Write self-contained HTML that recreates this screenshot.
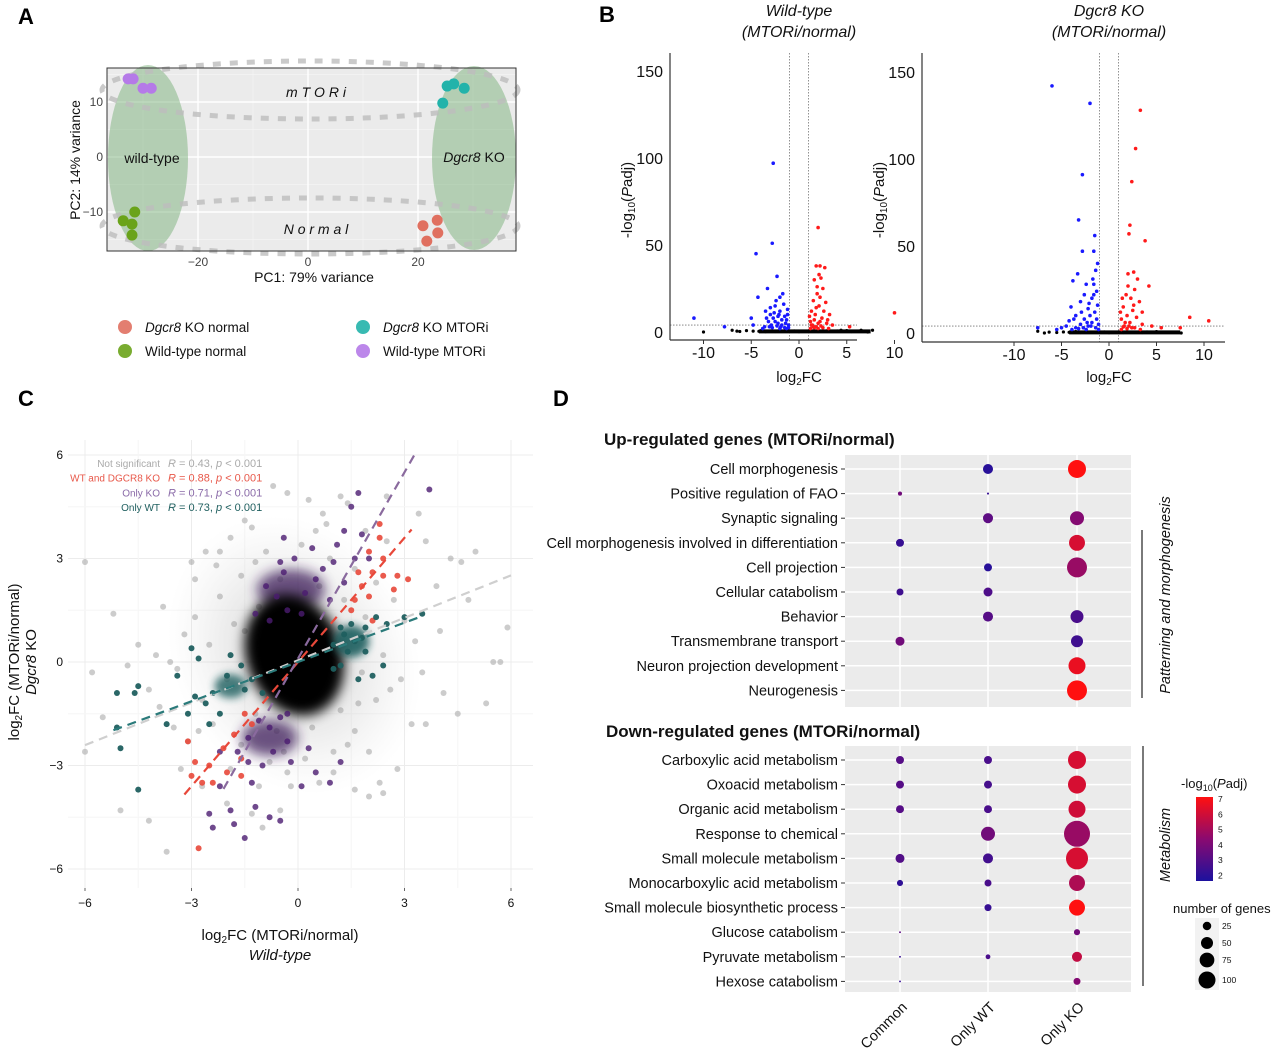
<!DOCTYPE html>
<html><head><meta charset="utf-8"><style>
html,body{margin:0;padding:0;background:#fff;}
svg{display:block;font-family:"Liberation Sans",sans-serif;}
</style></head><body>
<svg id="fig" width="1280" height="1055" viewBox="0 0 1280 1055">
<defs>
<linearGradient id="cbar" x1="0" y1="1" x2="0" y2="0">
<stop offset="0" stop-color="#1c119e"/><stop offset="0.5" stop-color="#8a0a70"/><stop offset="1" stop-color="#ff1010"/>
</linearGradient>
<radialGradient id="halo"><stop offset="0" stop-color="#888" stop-opacity="0.4"/><stop offset="0.55" stop-color="#aaa" stop-opacity="0.22"/><stop offset="1" stop-color="#ccc" stop-opacity="0"/></radialGradient>
<filter id="blur6" x="-50%" y="-50%" width="200%" height="200%"><feGaussianBlur stdDeviation="6"/></filter>
<filter id="blur4" x="-50%" y="-50%" width="200%" height="200%"><feGaussianBlur stdDeviation="4"/></filter>
</defs>
<g font-weight="bold" font-size="22" fill="#000">
<text x="18" y="24">A</text>
<text x="599" y="22">B</text>
<text x="18" y="406">C</text>
<text x="553" y="406">D</text>
</g>
<g id="pA"></g>
<g id="pB"></g>
<g id="pC"></g>
<g id="pD"></g>
</svg>
<script>
const NS="http://www.w3.org/2000/svg";
function mk(tag,attrs,parent,txt){const e=document.createElementNS(NS,tag);for(const k in attrs)e.setAttribute(k,attrs[k]);if(txt!==undefined)e.textContent=txt;parent.appendChild(e);return e;}

/* ---------- Panel A data ---------- */
const pcaGroups=["Dgcr8 KO normal","Wild-type normal","Dgcr8 KO MTORi","Wild-type MTORi"];
const pcaColors=["#e07060","#6aa31a","#22b3aa","#b57ae8"];
const pcaPC1=[[20.9,23.5,23.6,21.6],[-33.6,-31.5,-32,-32],[25.3,26.5,28.4,24.5],[-32.7,-31.8,-30,-28.5]];
const pcaPC2=[[-12.5,-11.5,-13.8,-15.3],[-11.6,-10,-12.2,-14.2],[12.9,13.3,12.5,9.8],[14.2,14.2,12.5,12.5]];
const pcaXTicks=[-20,0,20];
const pcaYTicks=[10,0,-10];

/* ---------- Panel B data ---------- */
const wtBlueX=[-11,-7.8,-4.5,-2.8,-2.7,-2.3,-3.3,-4.3,-5,-4.8,-3.5,-3,-2.5,-2,-1.5,-1.2,-1.8,-2.2,-3.2,-2.7,-1.4,-1.1,-2.0,-2.4,-3.0,-1.6,-1.3,-2.9,-3.6,-1.9,-2.6,-1.7,-2.1,-3.4,-1.2,-2.3,-1.5,-2.0,-2.8,-3.1,-1.8,-2.5,-1.3,-3.8,-1.1,-2.2];
const wtBlueY=[8,3,45,51,97,32,25,20,8,4,12,10,15,12,9,13,7,5,6,8,5,4,20,18,14,16,7,4,3,3,11,22,10,8,10,3.5,2.5,2,2.5,3,4,6,2,2,2.5,9];
const wtRedX=[2,2.7,1.8,2.2,2.3,1.6,2.5,1.9,1.5,2.1,2.6,3.2,1.3,1.7,2.4,1.2,2.9,3.5,1.4,2.0,5.3,10,1.8,2.2,1.6,1.1,2.8,3.0,1.5,2.3,1.9,2.1,1.2,1.6,2.0,2.5,1.3,1.8,2.2,3.1];
const wtRedY=[60,37,38,38,31,30,25,22,18,15,12,10,12,10,8,6,5,4,4,5,3,11,14,20,7,9,17,7,3,3.5,26,33,2,2.5,2,2.5,4,3,6,2];
const wtBlackX=[-10,-7,-6.5,-6.2,-5.5,-4.8,-4.2,-3.9,-3.5,-3,-2.5,-2,-1.5,-1,-0.5,0,0.5,1,1.5,2,2.5,3,3.5,4,4.4,5,5.5,6,6.5,7.2,7.7];
const wtBlackY=[0,1,0.5,0.3,0.8,0.5,0.4,1,0.2,0.6,0.3,0.7,0.5,0.4,0.6,0.2,0.5,0.4,0.6,0.3,0.5,0.8,0.4,0.6,1,0.8,0.3,0.5,1,0,1];
const koBlueX=[-6,-2,-2.8,-3.2,-1.5,-2.8,-1.6,-3.3,-3.8,-1.4,-2.4,-1.6,-2.6,-3.0,-4,-3.5,-2.2,-1.8,-1.3,-1.2,-1.5,-2.0,-2.6,-3.0,-4.5,-5,-5.5,-7.5,-1.8,-1.3,-2.2,-3.5,-1.1,-2.9,-4.2,-1.7,-2.1,-3.7,-1.2,-1.6,-1.4,-2.4,-3.2,-1.9,-2.7,-3.9,-1.1,-2.3];
const koBlueY=[142,132,91,65,56,47,47,34,30,36,28,28,22,18,15,10,14,20,24,16,12,10,8,5,4,3,2,3,6,8,4,3,5,12,7,31,17,8,40,22,3,2,2.5,4,3,2,2,6];
const koRedX=[3.3,2.8,2.4,2.2,2.1,3.8,2.6,2.0,3.0,4.2,2.7,1.8,2.3,3.2,1.5,2.5,1.9,2.9,1.3,2.2,3.5,4.5,1.6,2.4,5.5,7.5,8.5,10.5,1.2,2.0,3.5,1.4,2.6,1.7,1.3,1.9,2.7,3.3,1.5,2.1];
const koRedY=[128,106,87,62,57,53,35,34,31,27,25,22,20,18,15,13,10,9,8,6,5,4,4,3,3,3,9,7,12,27,12,20,16,6,2,2.5,3,2,3.5,4];
const koBlackX=[-7.5,-6.8,-6.3,-5.5,-4.8,-4.2,-3.5,-3,-2.5,-2,-1.5,-1,-0.5,0,0.5,1,1.5,2,2.5,3,3.5,4,4.5,5,6.3,7.6];
const koBlackY=[1,0,0.5,0.3,0.6,0.4,0.8,0.3,0.6,0.4,0.5,0.3,0.6,0.2,0.4,0.5,0.3,0.6,0.4,0.5,0.3,0.6,0.4,0.8,0.5,0];
const volXTicks=[-10,-5,0,5,10];
const volYTicks=[0,50,100,150];

/* ---------- Panel C data ---------- */
const nsX=[-6,-6,-5.8,-5.2,-5.5,-5.0,-4.2,-3.7,-4.5,-4.2,-3.8,-3.5,-3.0,-2.9,-2.6,-1.9,-1.3,-0.7,-0.3,0.3,1.2,1.4,2.5,3.4,3.6,4.3,4.6,5.0,5.9,5.5,5.7,5.3,4.5,4.1,3.2,3.6,2.8,2.4,2.3,1.6,0.6,-0.2,-0.5,-1.3,-2.0,-2.7,-3.3,-3.1,-2.4,-2.7,-3.2,-2.2,-1.6,-0.9,0.1,0.9,1.6,2.2,2.7,3.0,3.3,2.4,2.9,2.2,1.6,1.0,0.2,-0.8,-1.6,-2.0,-1.5,-2.5,1.9,1.3,0.6,-0.5,-1.1,1.8,1.2,0.4,-0.6,-1.2,3.9,4.8,1.9,-1.9,-4.8,-4.0,2.5,0.8,-2.2,3.5,4.0,-3.9,-1.1,1.0,-0.3,-2.9,-3.4,2.0,-1.0,0.7,-2.3,-1.8,-1.2,1.4,2.6,-2.8,-0.4,0.5,1.7,-1.5,2.0,-3.6];
const nsY=[2.9,-2.6,-0.3,1.4,-1.6,-4.3,-4.6,-5.5,0.5,-0.8,1.6,-1.9,2.9,2.4,3.2,3.6,3.9,5.1,4.9,4.7,4.8,4.6,4.8,4.3,3.5,3.0,2.9,3.2,1.0,0,0,-1.2,-1.5,-0.9,-1.8,-1.8,-3.1,-3.8,-3.5,-3.7,-3.5,-3.6,-4.3,-4.4,-4.1,-3.6,-3.1,-2.3,-1.8,-1.1,0.8,1.9,2.5,3.2,3.4,3.0,2.7,2.3,1.8,1.2,0.6,0.2,-0.5,-1.1,-2.0,-2.6,-2.8,-2.9,-2.4,-0.5,0.9,0.5,1.3,1.8,2.2,2.4,1.6,-0.3,-1.4,-1.9,-2.0,-1.5,2.2,1.8,3.8,-3.1,-0.1,0.2,3.5,4.0,3.2,-0.3,0.9,-1.3,-3.6,-3.2,-3.2,1.3,-0.2,-3.9,-4.8,4.3,2.8,1.1,2.9,-2.4,-0.8,-2.0,-2.6,3.8,-1.2,4.1,-2.6,0.0];
const koOnlyX=[-0.3,-0.6,-0.9,-0.4,0.2,0.5,-0.1,0.4,-0.4,1.1,1.6,1.3,0.9,-1.2,-0.8,0.1,1.8,3.7,1.5,1.7,-0.5,0.7,1.0,-1.4,-1.1,-0.8,-0.5,-1.7,-1.4,-1.0,-0.7,-0.3,-2.2,-1.9,-1.2,-0.8,-0.5,0.1,-2.5,-2.4,-1.5,-1.8,0.5,0.9,-2.2,-1.3,-0.2,0.3,1.3,2.0,1.2,-0.3];
const koOnlyY=[1.5,1.9,2.2,2.6,2.0,2.4,3.0,3.3,3.6,3.4,3.0,2.3,1.8,1.4,1.2,1.4,3.7,5.0,4.5,4.9,2.9,2.7,2.9,-2.2,-1.7,-1.9,-1.6,-2.6,-2.9,-3.0,-2.6,-2.3,-3.6,-4.3,-4.2,-4.5,-4.6,-3.6,-4.4,-4.8,-5.1,-4.7,-3.2,-3.5,-2.6,-3.5,-2.9,-2.5,3.8,3.0,-2.9,-1.5];
const bothX=[2.3,2.3,2.0,2.4,1.7,1.8,2.1,2.4,2.8,3.1,2.7,1.6,2.0,1.5,2.1,-1.5,-1.3,-1.8,-2.1,-2.5,-2.9,-3.1,-3.0,-2.8,-2.0,-1.6,-2.4,-1.6,-2.7];
const bothY=[3.6,4.0,3.2,3.0,2.6,2.2,2.6,2.5,2.5,2.4,2.1,1.8,1.9,1.5,1.2,-1.5,-1.8,-2.1,-2.5,-3.0,-2.9,-2.3,-3.3,-5.4,-3.2,-2.8,-3.5,-3.3,-3.5];
const wtOnlyX=[1.0,1.3,1.6,1.2,1.5,1.9,2.2,2.5,3.0,3.5,1.9,1.2,2.1,2.4,1.7,1.0,-1.6,-1.9,-2.0,-1.3,-2.4,-2.6,-2.9,-3.1,-3.4,-2.5,-2.2,-1.0,-1.5,-3.0,-2.8,-5.1,-5.1,-4.6,-4.5,-5.0,-4.5,-3.7,1.4,1.8];
const wtOnlyY=[0.5,0.8,0.6,1.0,1.1,1.0,1.3,1.1,1.3,1.4,0.3,-0.1,-0.4,-0.1,-0.5,-0.2,-0.1,0.2,-0.4,-0.5,-0.9,-1.2,-1.0,-1.5,-0.4,-1.8,-1.5,-0.9,-0.8,0.4,0.1,-1.9,-0.9,-0.9,-0.7,-2.5,-3.7,-1.8,0.3,0.7];
const fitNames=["Not significant","WT and DGCR8 KO","Only KO","Only WT"];
const fitR=["0.43","0.88","0.71","0.73"];
const fitSlope=[0.41,1.2,1.8,0.38];
const fitIntercept=[0.05,0.0,0.1,0.0];
const fitXmin=[-6,-3.2,-2.1,-5.2];
const fitXmax=[6,3.2,3.3,3.5];
const scXTicks=[-6,-3,0,3,6];
const scYTicks=[6,3,0,-3,-6];

/* ---------- Panel D data ---------- */
const upTerms=["Cell morphogenesis","Positive regulation of FAO","Synaptic signaling","Cell morphogenesis involved in differentiation","Cell projection","Cellular catabolism","Behavior","Transmembrane transport","Neuron projection development","Neurogenesis"];
const downTerms=["Carboxylic acid metabolism","Oxoacid metabolism","Organic acid metabolism","Response to chemical","Small molecule metabolism","Monocarboxylic acid metabolism","Small molecule biosynthetic process","Glucose catabolism","Pyruvate metabolism","Hexose catabolism"];
const groups=["Common","Only WT","Only KO"];
const upGenesCommon=[0,6,0,22,0,17,0,28,0,0];
const upGenesWT=[35,1.5,35,0,22,28,35,0,0,0];
const upGenesKO=[112,0,68,88,138,0,58,50,100,138];
const upPadjCommon=[0,3.5,0,2,0,2.2,0,3.5,0,0];
const upPadjWT=[1.6,2,3,0,1.6,2.6,2.8,0,0,0];
const upPadjKO=[7,0,4,6,4.5,0,2.5,2.2,6.5,7];
const downGenesCommon=[22,22,22,0,28,13,0,1.2,1.2,1.2];
const downGenesWT=[22,22,22,68,35,17,17,0,8,0];
const downGenesKO=[112,112,100,234,168,88,88,13,35,17];
const downPadjCommon=[2.8,2.8,2.8,0,2.7,1.8,0,3,2,2];
const downPadjWT=[2.5,2.4,2.5,3.5,2.3,2.5,2,0,2.5,0];
const downPadjKO=[6,6,5.8,4.5,6,5,7,3.5,5.5,4];
const sizeLegend=[25,50,75,100];
const colorTicks=[7,6,5,4,3,2];

/* ================= Panel A ================= */
(function(){
const g=document.getElementById('pA');
const x=v=>308+v*5.5, y=v=>157-v*5.5;
const bg=mk('rect',{x:107,y:68,width:409,height:183,fill:'#ebebeb'},g);


[-30,-10,10,30].forEach(v=>mk('line',{x1:x(v),x2:x(v),y1:68,y2:251,stroke:'#f5f5f5','stroke-width':0.7},g));
[15,5,-5,-15].forEach(v=>{if(y(v)>68&&y(v)<251)mk('line',{x1:107,x2:516,y1:y(v),y2:y(v),stroke:'#f5f5f5','stroke-width':0.7},g)});
pcaXTicks.forEach(v=>{mk('line',{x1:x(v),x2:x(v),y1:68,y2:251,stroke:'#fff','stroke-width':1.4},g);
 const t=mk('text',{x:x(v),y:266,'font-size':12,fill:'#444','text-anchor':'middle'},g,v===0?'0':String(v).replace('-','−'));
 });
pcaYTicks.forEach(v=>{mk('line',{x1:107,x2:516,y1:y(v),y2:y(v),stroke:'#fff','stroke-width':1.4},g);
 const t=mk('text',{x:103,y:y(v)+4,'font-size':12,fill:'#444','text-anchor':'end'},g,String(v).replace('-','−'));
 });
const e1=mk('ellipse',{cx:148,cy:158,rx:40,ry:93,fill:'rgba(110,170,110,0.45)'},g);

const e2=mk('ellipse',{cx:474,cy:158,rx:42,ry:92,fill:'rgba(110,170,110,0.45)'},g);

const d1=mk('ellipse',{cx:310,cy:90,rx:208,ry:29,fill:'none',stroke:'#bdbdbd','stroke-width':5,'stroke-dasharray':'8 9',opacity:0.8},g);

const d2=mk('ellipse',{cx:310,cy:226,rx:208,ry:28,fill:'none',stroke:'#bdbdbd','stroke-width':5,'stroke-dasharray':'8 9',opacity:0.8},g);

pcaPC1.forEach((arr,gi)=>arr.forEach((v,i)=>{const c=mk('circle',{cx:x(v),cy:y(pcaPC2[gi][i]),r:5.5,fill:pcaColors[gi]},g);
 }));
mk('rect',{x:107,y:68,width:409,height:183,fill:'none',stroke:'#333','stroke-width':1},g);
const lbls=[[316,97,'m T O R i','italic','band-label-mtori'],[316,234,'N o r m a l','italic','band-label-normal'],[152,163,'wild-type','normal','wild-type-label']];
lbls.forEach(l=>{const t=mk('text',{x:l[0],y:l[1],'font-size':14,'font-style':l[3],'text-anchor':'middle',fill:'#111'},g,l[2]);
 });
const k=mk('text',{x:474,y:162,'font-size':14,'text-anchor':'middle',fill:'#111'},g);

mk('tspan',{'font-style':'italic'},k,'Dgcr8');mk('tspan',{},k,' KO');
const xt=mk('text',{x:314,y:282,'font-size':14,'text-anchor':'middle',fill:'#111'},g,'PC1: 79% variance');

const yt=mk('text',{x:0,y:0,'font-size':14,'text-anchor':'middle',fill:'#111',transform:'translate(80,160) rotate(-90)'},g,'PC2: 14% variance');

const lp=[[125,327],[125,351],[363,327],[363,351]];
[0,1,2,3].forEach(i=>{const c=mk('circle',{cx:lp[i][0],cy:lp[i][1],r:7,fill:pcaColors[i],opacity:0.9},g);
 
 const t=mk('text',{x:lp[i][0]+20,y:lp[i][1]+5,'font-size':13.5,fill:'#111'},g);
 
 const nm=pcaGroups[i];if(nm.startsWith('Dgcr8')){mk('tspan',{'font-style':'italic'},t,'Dgcr8');mk('tspan',{},t,nm.slice(5));}else t.textContent=nm;});
})();

/* ================= Panel B ================= */
function volcano(g,ox,bottom,x0,sx,y0,sy,right,title1,bx,by,rx,ry,kx,ky,name){
 const x=v=>x0+v*sx, y=v=>y0-v*sy;
 const t1=mk('text',{x:x(0),y:16,'font-size':16,'font-style':'italic','text-anchor':'middle',fill:'#111'},g,title1);
 
 const t2=mk('text',{x:x(0),y:37,'font-size':16,'font-style':'italic','text-anchor':'middle',fill:'#111'},g,'(MTORi/normal)');
 
 [-1,1].forEach(v=>mk('line',{x1:x(v),x2:x(v),y1:53,y2:bottom,stroke:'#777','stroke-width':0.8,'stroke-dasharray':'1.5 1.5'},g));
 mk('line',{x1:ox,x2:right,y1:y(4),y2:y(4),stroke:'#777','stroke-width':0.8,'stroke-dasharray':'1.5 1.5'},g);
 kx.forEach((v,i)=>{const c=mk('circle',{cx:x(v),cy:y(ky[i]),r:1.6,fill:'#000'},g);});
 mk('rect',{x:x(-4.2),y:y(1.5),width:x(7.5)-x(-4.2),height:4,fill:'#000'},g);
 bx.forEach((v,i)=>{const c=mk('circle',{cx:x(v),cy:y(by[i]),r:1.8,fill:'#1a1aff'},g);});
 rx.forEach((v,i)=>{const c=mk('circle',{cx:x(v),cy:y(ry[i]),r:1.8,fill:'#ff1a1a'},g);});
 mk('line',{x1:ox,x2:ox,y1:53,y2:bottom,stroke:'#333','stroke-width':1.2},g);
 mk('line',{x1:ox,x2:right,y1:bottom,y2:bottom,stroke:'#333','stroke-width':1.2},g);
 volXTicks.forEach(v=>{mk('line',{x1:x(v),x2:x(v),y1:bottom,y2:bottom+4,stroke:'#333'},g);
  const t=mk('text',{x:x(v),y:bottom+18,'font-size':16,'text-anchor':'middle',fill:'#111'},g,String(v));
  });
 volYTicks.forEach(v=>{const t=mk('text',{x:ox-7,y:y(v)+6,'font-size':16,'text-anchor':'end',fill:'#111'},g,String(v));
  });
 const xt=mk('text',{x:x(0),y:382,'font-size':15,'text-anchor':'middle',fill:'#111'},g);
 
 mk('tspan',{},xt,'log');mk('tspan',{'font-size':10,dy:3},xt,'2');mk('tspan',{dy:-3},xt,'FC');
 const yt=mk('text',{'font-size':15,'text-anchor':'middle',fill:'#111',transform:`translate(${ox-38},200) rotate(-90)`},g);
 
 mk('tspan',{},yt,'-log');mk('tspan',{'font-size':10,dy:3},yt,'10');mk('tspan',{dy:-3},yt,'(');mk('tspan',{'font-style':'italic'},yt,'P');mk('tspan',{},yt,'adj)');
}
(function(){const g=document.getElementById('pB');
 const gl=mk('g',{},g);
 volcano(gl,670,340,799,9.55,332,1.74,857,'Wild-type',wtBlueX,wtBlueY,wtRedX,wtRedY,wtBlackX,wtBlackY,'volcano-wt');
 const gr=mk('g',{},g);
 volcano(gr,922,342,1109,9.5,333,1.74,1225,'Dgcr8 KO',koBlueX,koBlueY,koRedX,koRedY,koBlackX,koBlackY,'volcano-ko');
})();

/* ================= Panel C ================= */
(function(){const g=document.getElementById('pC');
 const x=v=>298+v*35.5, y=v=>662-v*34.5;
 scXTicks.forEach(v=>mk('line',{x1:x(v),x2:x(v),y1:440,y2:888,stroke:'#ececec'},g));
 scYTicks.forEach(v=>mk('line',{x1:68,x2:533,y1:y(v),y2:y(v),stroke:'#ececec'},g));
 [-4.5,-1.5,1.5,4.5].forEach(v=>{mk('line',{x1:x(v),x2:x(v),y1:440,y2:888,stroke:'#f6f6f6'},g);mk('line',{x1:68,x2:533,y1:y(v),y2:y(v),stroke:'#f6f6f6'},g);});
 const halo=mk('ellipse',{cx:x(-0.1),cy:y(0.2),rx:120,ry:145,fill:'url(#halo)',transform:`rotate(-30 ${x(-0.1)} ${y(0.2)})`},g);
 
 nsX.forEach((v,i)=>{const c=mk('circle',{cx:x(v),cy:y(nsY[i]),r:3,fill:'#999',opacity:0.5},g);
  });
 const pc=mk('ellipse',{cx:x(-0.2),cy:y(2.1),rx:34,ry:20,fill:'#3d1a5a',opacity:0.75,filter:'url(#blur6)'},g);
 const pc2=mk('ellipse',{cx:x(-0.8),cy:y(-2.2),rx:28,ry:18,fill:'#3d1a5a',opacity:0.75,filter:'url(#blur6)'},g);
 const core=mk('ellipse',{cx:x(-0.1),cy:y(0.2),rx:48,ry:62,fill:'#000',filter:'url(#blur6)',transform:`rotate(-20 ${x(-0.1)} ${y(0.2)})`},g);
 
 const tc=mk('ellipse',{cx:x(1.5),cy:y(0.6),rx:18,ry:16,fill:'#1f5f5f',opacity:0.9,filter:'url(#blur4)'},g);
 const tc2=mk('ellipse',{cx:x(-1.9),cy:y(-0.7),rx:16,ry:12,fill:'#1f5f5f',opacity:0.8,filter:'url(#blur4)'},g);
 koOnlyX.forEach((v,i)=>{const c=mk('circle',{cx:x(v),cy:y(koOnlyY[i]),r:3,fill:'#4b1c70',opacity:0.8},g);
  });
 bothX.forEach((v,i)=>{const c=mk('circle',{cx:x(v),cy:y(bothY[i]),r:3,fill:'#e8483a',opacity:0.9},g);
  });
 wtOnlyX.forEach((v,i)=>{const c=mk('circle',{cx:x(v),cy:y(wtOnlyY[i]),r:3,fill:'#1f5f5f',opacity:0.95},g);
  });
 const fitColors=['#cfcfcf','#e8483a','#8a6a9e','#2a7a7a'];
 fitSlope.forEach((s,i)=>{const l=mk('line',{x1:x(fitXmin[i]),y1:y(fitXmin[i]*s+fitIntercept[i]),x2:x(fitXmax[i]),y2:y(fitXmax[i]*s+fitIntercept[i]),stroke:fitColors[i],'stroke-width':2.2,'stroke-dasharray':'9 6'},g);
  });
 const legCol=['#aaa','#e8584a','#8a6aa8','#1f5f5f'];
 fitNames.forEach((n,i)=>{const yy=467+i*14.7;
  const t=mk('text',{x:160,y:yy,'font-size':10,'text-anchor':'end',fill:legCol[i]},g,n);
  
  const r=mk('text',{x:168,y:yy,'font-size':11,fill:legCol[i]},g);
  
  mk('tspan',{'font-style':'italic'},r,'R');mk('tspan',{},r,' = '+fitR[i]+', ');mk('tspan',{'font-style':'italic'},r,'p');mk('tspan',{},r,' < 0.001');});
 scXTicks.forEach(v=>{mk('line',{x1:x(v),x2:x(v),y1:888,y2:891,stroke:'#666'},g);
  const t=mk('text',{x:x(v),y:907,'font-size':12,'text-anchor':'middle',fill:'#111'},g,String(v).replace('-','−'));
  });
 scYTicks.forEach(v=>{const t=mk('text',{x:63,y:y(v)+4,'font-size':12,'text-anchor':'end',fill:'#111'},g,String(v).replace('-','−'));
  });
 const xt=mk('text',{x:280,y:940,'font-size':15,'text-anchor':'middle',fill:'#111'},g);
 
 mk('tspan',{},xt,'log');mk('tspan',{'font-size':10,dy:3},xt,'2');mk('tspan',{dy:-3},xt,'FC (MTORi/normal)');
 const xt2=mk('text',{x:280,y:960,'font-size':15,'font-style':'italic','text-anchor':'middle',fill:'#111'},g,'Wild-type');
 
 const yt=mk('text',{'font-size':15,'text-anchor':'middle',fill:'#111',transform:'translate(19,662) rotate(-90)'},g);
 
 mk('tspan',{},yt,'log');mk('tspan',{'font-size':10,dy:3},yt,'2');mk('tspan',{dy:-3},yt,'FC (MTORi/normal)');
 const yt2=mk('text',{'font-size':15,'text-anchor':'middle',fill:'#111',transform:'translate(36,662) rotate(-90)'},g);
 
 mk('tspan',{'font-style':'italic'},yt2,'Dgcr8');mk('tspan',{},yt2,' KO');
})();

/* ================= Panel D ================= */
function padjColor(v){const t=Math.max(0,Math.min(1,(v-1.3)/(7-1.3)));
 const s=[[28,17,158],[138,10,112],[255,16,16]];let a,b,u;
 if(t<0.5){a=s[0];b=s[1];u=t/0.5;}else{a=s[1];b=s[2];u=(t-0.5)/0.5;}
 return 'rgb('+a.map((c,i)=>Math.round(c+(b[i]-c)*u)).join(',')+')';}
const rad=n=>0.85*Math.sqrt(n);
(function(){const g=document.getElementById('pD');
 const colX=[900,988,1077];
 function block(top,bot,firstRow,terms,genes,padj,heading,hy,hx,name){
  const h=mk('text',{x:hx,y:hy,'font-size':17,'font-weight':'bold',fill:'#111'},g,heading);
  
  const bg=mk('rect',{x:845,y:top,width:286,height:bot-top,fill:'#ebebeb'},g);
  
  colX.forEach(cx=>mk('line',{x1:cx,x2:cx,y1:top,y2:bot,stroke:'#fff','stroke-width':1.5},g));
  terms.forEach((t,i)=>{const yy=firstRow+i*24.6;
   mk('line',{x1:845,x2:1131,y1:yy,y2:yy,stroke:'#fff','stroke-width':1.5},g);
   mk('line',{x1:841,x2:845,y1:yy,y2:yy,stroke:'#333'},g);
   const tl=mk('text',{x:838,y:yy+5,'font-size':14.5,'text-anchor':'end',fill:'#111'},g,t);
   
   genes.forEach((arr,ci)=>{if(arr[i]>0){const c=mk('circle',{cx:colX[ci],cy:yy,r:rad(arr[i]),fill:padjColor(padj[ci][i])},g);
    }});});
 }
 block(455,707,469,upTerms,[upGenesCommon,upGenesWT,upGenesKO],[upPadjCommon,upPadjWT,upPadjKO],'Up-regulated genes (MTORi/normal)',445,604,'up-regulated');
 block(746,992,760,downTerms,[downGenesCommon,downGenesWT,downGenesKO],[downPadjCommon,downPadjWT,downPadjKO],'Down-regulated genes (MTORi/normal)',737,606,'down-regulated');
 groups.forEach((n,i)=>{const t=mk('text',{'font-size':14.5,'text-anchor':'end',fill:'#111',transform:`translate(${colX[i]+8},1008) rotate(-45)`},g,n);
  });
 mk('line',{x1:1142,x2:1142,y1:530,y2:698,stroke:'#333','stroke-width':1.3},g);
 const p=mk('text',{'font-size':14.5,'font-style':'italic','text-anchor':'middle',fill:'#111',transform:'translate(1170,595) rotate(-90)'},g,'Patterning and morphogenesis');
 
 mk('line',{x1:1143,x2:1143,y1:746,y2:986,stroke:'#333','stroke-width':1.3},g);
 const m=mk('text',{'font-size':14.5,'font-style':'italic','text-anchor':'middle',fill:'#111',transform:'translate(1170,845) rotate(-90)'},g,'Metabolism');
 
 const lt=mk('text',{x:1181,y:788,'font-size':13,fill:'#111'},g);
 
 mk('tspan',{},lt,'-log');mk('tspan',{'font-size':9,dy:3},lt,'10');mk('tspan',{dy:-3},lt,'(');mk('tspan',{'font-style':'italic'},lt,'P');mk('tspan',{},lt,'adj)');
 const cb=mk('rect',{x:1196,y:797,width:17,height:84,fill:'url(#cbar)'},g);
 
 colorTicks.forEach(v=>{const yy=881-(v-1.5)/(7-1.5)*84+2;
  const t=mk('text',{x:1218,y:yy+3,'font-size':8.5,fill:'#111'},g,String(v));
  });
 const st=mk('text',{x:1173,y:913,'font-size':13,fill:'#111'},g,'number of genes');
 
 mk('rect',{x:1195,y:918,width:24,height:72,fill:'#f2f2f2'},g);
 const sy=[926,943,960,980];
 sizeLegend.forEach((n,i)=>{const c=mk('circle',{cx:1207,cy:sy[i],r:rad(n),fill:'#000'},g);
  
  const t=mk('text',{x:1222,y:sy[i]+3,'font-size':8.5,fill:'#111'},g,String(n));
  });
})();
</script>
</body></html>
